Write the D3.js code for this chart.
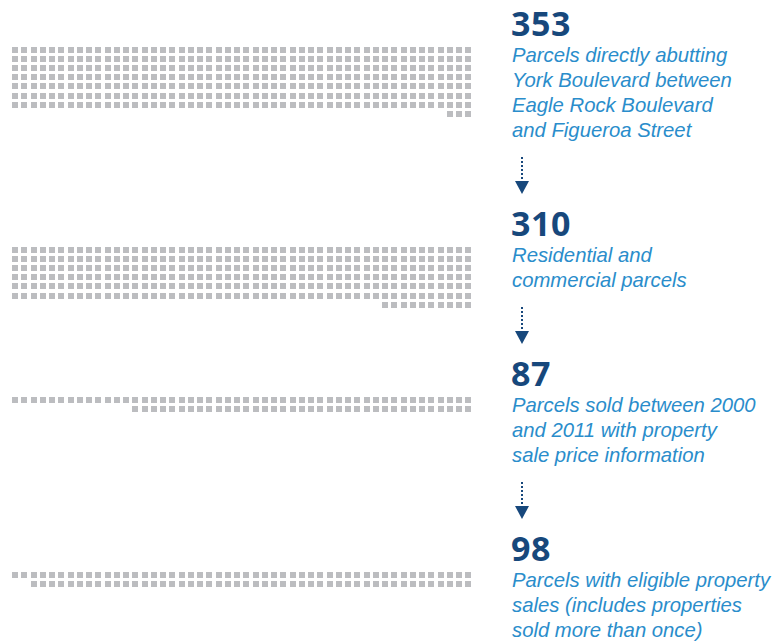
<!DOCTYPE html>
<meta charset="utf-8">
<style>
  body { margin: 0; background: #fff; }
  .num { font-family: "Open Sans", sans-serif; font-weight: 700; fill: #17487c; }
  .desc { font-family: "Liberation Sans", Arial, sans-serif; font-style: italic; fill: #2a8dcb; }
</style>
<body>
<script src="https://d3js.org/d3.v7.min.js"></script>
<script>

// parcel counts at each filtering step
var counts = [353, 310, 87, 98];
var descriptions = [
  ["Parcels directly abutting", "York Boulevard between", "Eagle Rock Boulevard", "and Figueroa Street"],
  ["Residential and", "commercial parcels"],
  ["Parcels sold between 2000", "and 2011 with property", "sale price information"],
  ["Parcels with eligible property", "sales (includes properties", "sold more than once)"]
];
var perRow = 50;

var width = 773,
    height = 644;

var svg = d3.select("body").append("svg")
    .attr("width", width)
    .attr("height", height);

// columns and rows of the waffle
var x = d3.scaleLinear().domain([0, perRow]).range([12, 12 + perRow * 9.25]);
var y = d3.scaleLinear().domain([0, 1]).range([0, 9.1]);
var cell = 6;

var lineH = 25, textX = 512;

var base = 36; // baseline of first big number
counts.forEach(function(n, i) {
  var g = svg.append("g");
  var lines = descriptions[i];

  g.append("text").attr("class", "num")
    .attr("x", textX - 1).attr("y", base)
    .attr("font-size", 34)
    .attr("letter-spacing", 0.6)
    .text(n);

  g.selectAll("text.desc").data(lines).enter().append("text")
    .attr("class", "desc")
    .attr("x", textX).attr("y", function(d, j) { return base + 26 + j * lineH; })
    .attr("font-size", 20.3)
    .text(function(d) { return d; });

  // waffle: full rows on top, remainder right aligned below
  var full = Math.floor(n / perRow), rest = n % perRow;
  var cells = d3.range(n).map(function(k) {
    var r = Math.floor(k / perRow), c = k % perRow;
    if (r == full) c = perRow - rest + c;
    return {r: r, c: c};
  });
  var top = base + 11;
  g.selectAll("rect").data(cells).enter().append("rect")
    .attr("x", function(d) { return Math.round(x(d.c)); })
    .attr("y", function(d) { return Math.round(top + y(d.r)); })
    .attr("width", cell).attr("height", cell)
    .attr("shape-rendering", "crispEdges")
    .attr("fill", "#bcbdc0");

  var last = base + 26 + (lines.length - 1) * lineH;
  if (i < counts.length - 1) {
    var ax = 522, y0 = last + 20, y1 = y0 + 24;
    g.append("line")
      .attr("x1", ax).attr("x2", ax).attr("y1", y0).attr("y2", y1)
      .attr("stroke", "#17487c").attr("stroke-width", 2)
      .attr("stroke-dasharray", "2,2");
    g.append("path")
      .attr("d", "M" + (ax - 7) + "," + y1 + "L" + (ax + 7) + "," + y1 + "L" + ax + "," + (y1 + 13) + "Z")
      .attr("fill", "#17487c");
  }
  base = last + 99;
});
</script>
</body>
